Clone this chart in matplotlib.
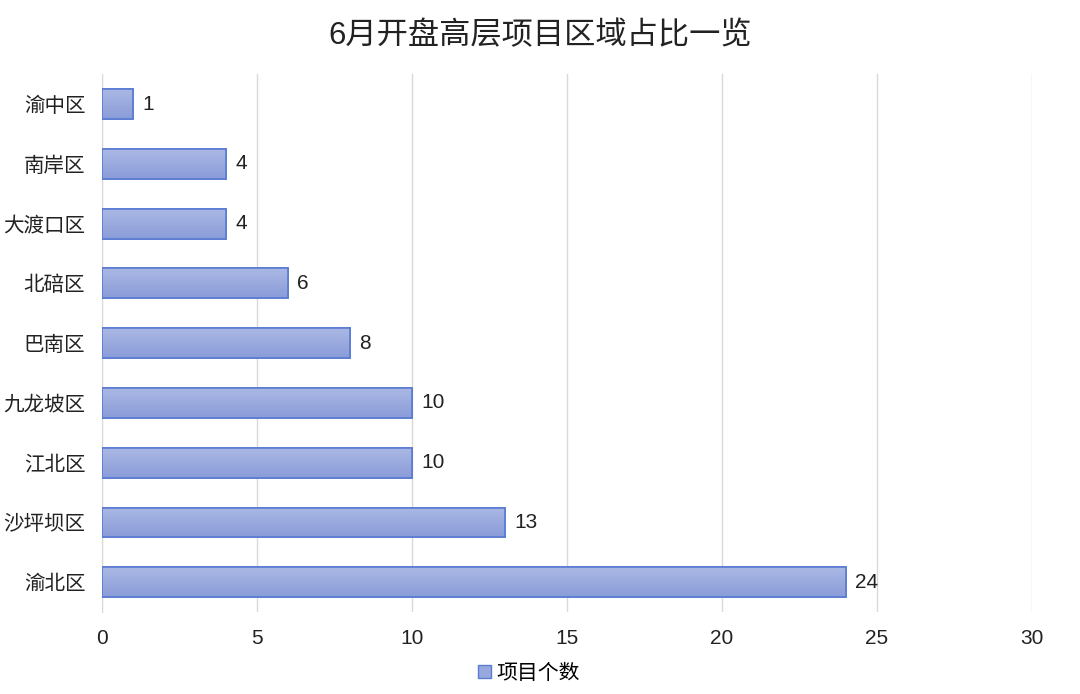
import matplotlib.pyplot as plt
from matplotlib.patches import Patch
import numpy as np

plt.rcParams['font.family'] = ['Liberation Sans', 'Noto Sans CJK SC', 'DejaVu Sans']

# 数据（自下而上）
districts = ['渝北区', '沙坪坝区', '江北区', '九龙坡区', '巴南区', '北碚区', '大渡口区', '南岸区', '渝中区']
counts = [24, 13, 10, 10, 8, 6, 4, 4, 1]

fig = plt.figure(figsize=(10.8, 6.94), dpi=100)
ax = fig.add_axes([0.0944, 0.118, 0.861, 0.775])

y = np.arange(len(districts))
bars = ax.barh(y, counts, height=0.5, color='#97a8de', edgecolor='#5a7bd2', linewidth=1.2, zorder=3)

# 竖向渐变填充
grad = np.linspace(0, 1, 64).reshape(-1, 1)
cmap = plt.matplotlib.colors.LinearSegmentedColormap.from_list('g', ['#8a9cd9', '#aab8e4'])
for b in bars:
    x0, y0 = b.get_x(), b.get_y()
    w, h = b.get_width(), b.get_height()
    im = ax.imshow(grad, extent=[x0, x0 + w, y0, y0 + h], aspect='auto', cmap=cmap,
                   origin='lower', zorder=3.5)
    im.set_clip_path(b)
    ax.add_patch(plt.Rectangle((x0, y0), w, h, fill=False, edgecolor='#5a7bd2', linewidth=1.2, zorder=4))

for yi, c in zip(y, counts):
    ax.text(c + 0.3, yi, str(c), va='center', ha='left', fontsize=15, color='#222222', zorder=5)

ax.set_xlim(0, 30)
ax.set_ylim(-0.5, len(districts) - 0.5)
ax.set_xticks(range(0, 31, 5))
ax.set_yticks(y)
ax.set_yticklabels(districts)
ax.tick_params(axis='both', length=0, colors='#222222')
ax.tick_params(axis='x', pad=12, labelsize=15)
ax.tick_params(axis='y', pad=12, labelsize=14.8)
ax.grid(axis='x', color='#d9d9d9', linewidth=1, zorder=0)
for s in ['top', 'right', 'bottom']:
    ax.spines[s].set_visible(False)
ax.spines['left'].set_color('#d9d9d9')

fig.suptitle('6月开盘高层项目区域占比一览', fontsize=22.5, y=0.97, color='#222222')

handles = [Patch(facecolor='#97a8de', edgecolor='#5a7bd2', label='项目个数')]
fig.legend(handles=handles, loc='center', bbox_to_anchor=(0.49, 0.03), frameon=False,
           fontsize=15, handlelength=0.6, handleheight=0.6, handletextpad=0.3)

plt.savefig('out.png', dpi=100, facecolor='white')
